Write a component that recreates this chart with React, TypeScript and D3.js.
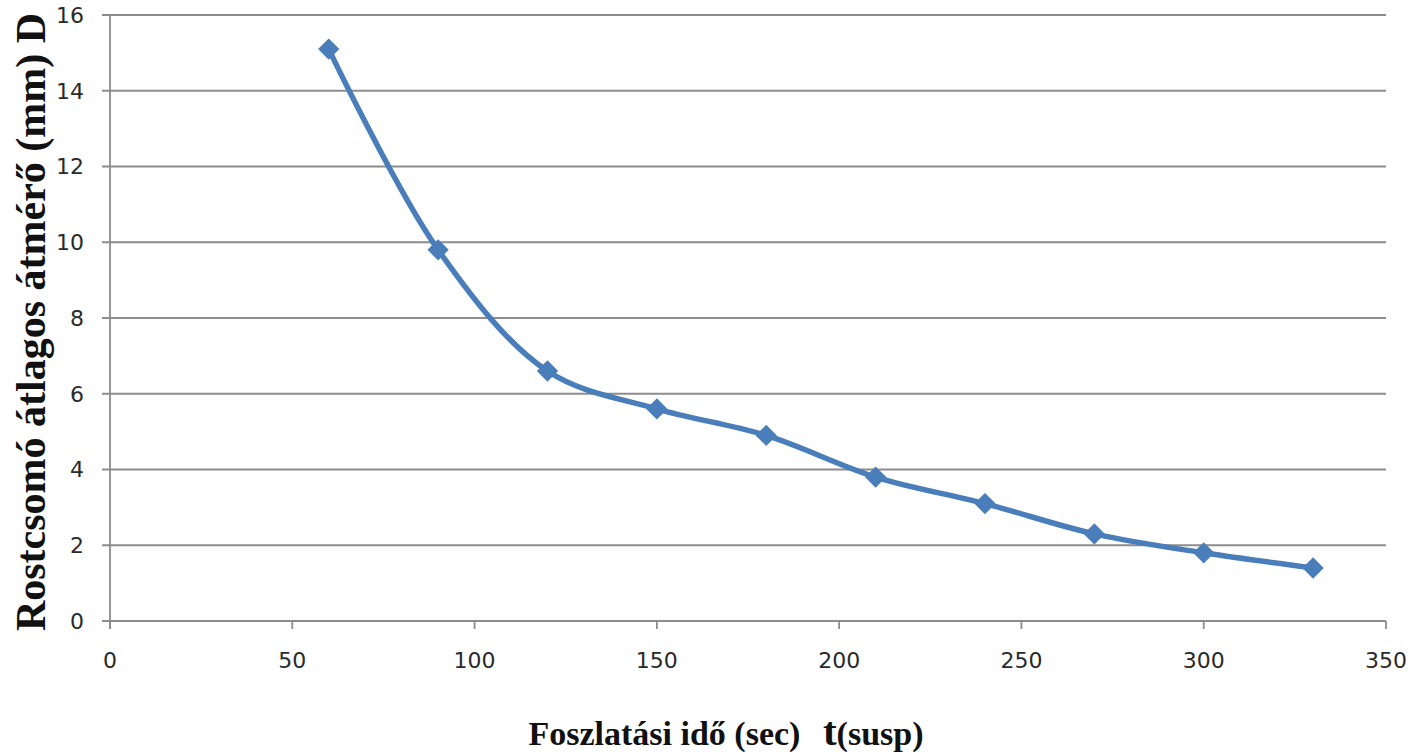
import React from "react";
import * as d3 from "d3";

const xValues = [60, 90, 120, 150, 180, 210, 240, 270, 300, 330];
const yValues = [15.1, 9.8, 6.6, 5.6, 4.9, 3.8, 3.1, 2.3, 1.8, 1.4];
const xTicks = [0, 50, 100, 150, 200, 250, 300, 350];
const yTicks = [0, 2, 4, 6, 8, 10, 12, 14, 16];

export default function App() {
  const W = 1414, H = 754;
  const x = d3.scaleLinear().domain([0, 350]).range([110, 1386]);
  const y = d3.scaleLinear().domain([0, 16]).range([621, 15]);
  const data = xValues.map((v, i) => [v, yValues[i]] as [number, number]);
  const line = d3.line<[number, number]>()
    .x(d => x(d[0])).y(d => y(d[1]))
    .curve(d3.curveCatmullRom.alpha(0.5));
  const diamond = d3.symbol().type(d3.symbolDiamond2).size(290)();
  const grid = "#8c8c8c";
  const tickFont = "'DejaVu Sans', Verdana, sans-serif";
  return (
    <svg width={W} height={H} style={{ position: "absolute", left: 0, top: 0, background: "#fff" }}>
      {yTicks.map(t => (
        <line key={"g" + t} x1={102} x2={1386} y1={y(t)} y2={y(t)} stroke={grid} strokeWidth={1.8} />
      ))}
      <line x1={110} x2={110} y1={y(16)} y2={629} stroke={grid} strokeWidth={1.8} />
      {xTicks.map(t => (
        <line key={"xt" + t} x1={x(t)} x2={x(t)} y1={621} y2={629} stroke={grid} strokeWidth={1.8} />
      ))}
      {yTicks.map(t => (
        <text key={"yl" + t} x={84} y={y(t)} dy="0.36em" textAnchor="end"
          fontFamily={tickFont} fontSize={22} fill="#2a2a2a">{t}</text>
      ))}
      {xTicks.map(t => (
        <text key={"xl" + t} x={x(t)} y={668} textAnchor="middle"
          fontFamily={tickFont} fontSize={22} fill="#2a2a2a">{t}</text>
      ))}
      <path d={line(data) || ""} fill="none" stroke="#4a7ebb" strokeWidth={5.5} />
      {data.map((d, i) => (
        <path key={"m" + i} d={diamond || ""} transform={`translate(${x(d[0])},${y(d[1])})`} fill="#4a7ebb" />
      ))}
      <text transform="translate(45,322) rotate(-90)" textAnchor="middle"
        fontFamily="'Liberation Serif', 'Times New Roman', serif" fontWeight="bold" fontSize={42} fill="#111">
        Rostcsomó átlagos átmérő (mm) D
      </text>
      <text x={726} y={745} textAnchor="middle"
        fontFamily="'Liberation Serif', 'Times New Roman', serif" fontWeight="bold" fill="#111">
        <tspan fontSize={34}>Foszlatási idő (sec)</tspan>
        <tspan fontSize={34} dx={14}> </tspan>
        <tspan fontSize={41}>t</tspan>
        <tspan fontSize={34}>(susp)</tspan>
      </text>
    </svg>
  );
}
